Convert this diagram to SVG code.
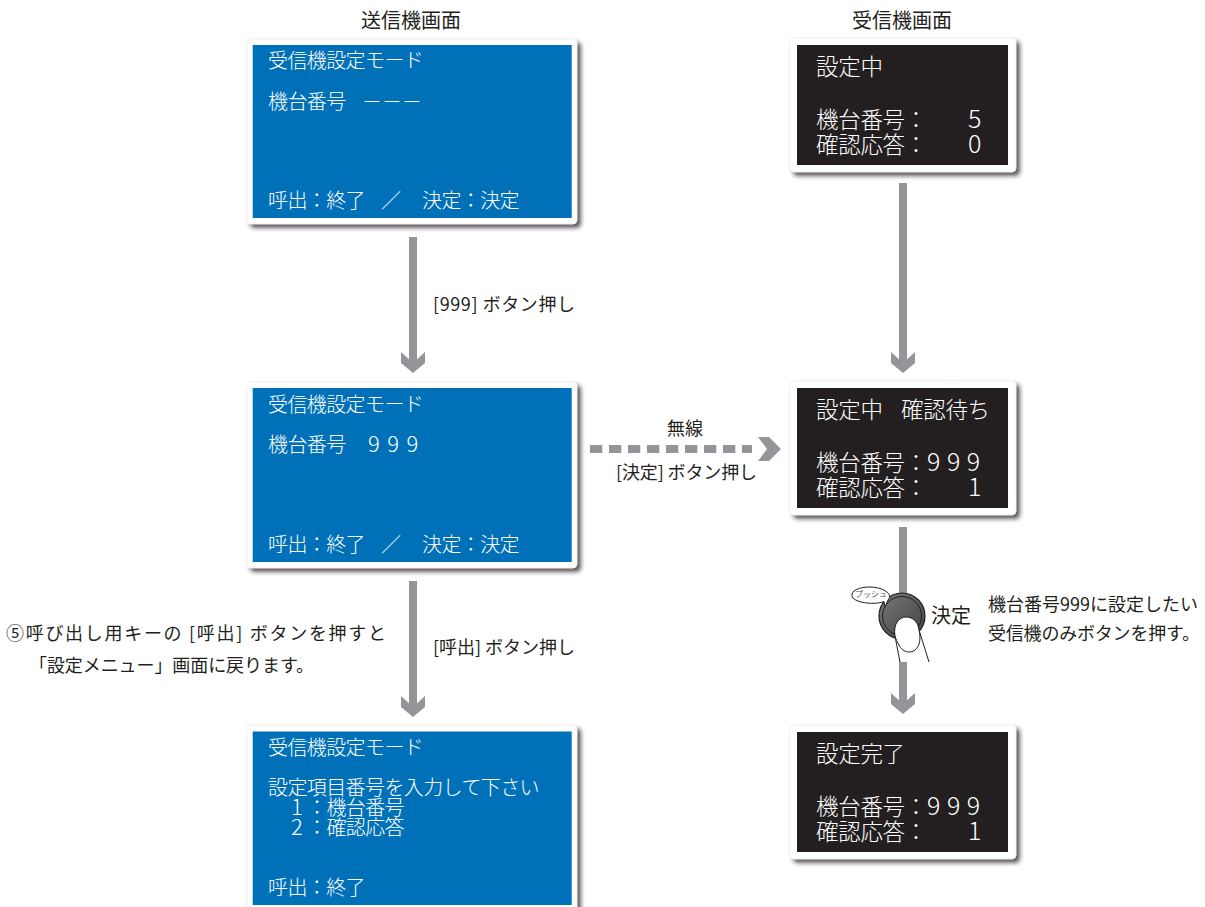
<svg xmlns="http://www.w3.org/2000/svg" width="1205" height="907" viewBox="0 0 1205 907">
<style>
text{font-family:"Noto Sans CJK JP","Noto Sans",sans-serif;white-space:pre}
.outer{fill:#fff;stroke:#e8e8e8;stroke-width:.6;filter:url(#sh)}
.blue{fill:#0071b8}
.black{fill:#231f20}
.t{fill:#fff;font-size:20px;font-weight:300;letter-spacing:-.6px}
.d{fill:#fff;font-size:22px;font-weight:300}
.k{fill:#fff;font-size:22.500px;font-weight:300;letter-spacing:-.3px}
.n{fill:#fff;font-size:25px;font-weight:300}
.l{fill:#231f20;font-size:18px}
.c{fill:#231f20;font-size:20px}
.ln{stroke:#939598;stroke-width:8;fill:none}
.hd{fill:#939598}
</style>
<defs>
<filter id="sh" x="-5%" y="-8%" width="112%" height="122%"><feDropShadow dx="3.500" dy="3.500" stdDeviation="2" flood-color="#231f20" flood-opacity=".75"/></filter>
<linearGradient id="btn" x1="0" x2="1" y1="0" y2="1"><stop offset="0" stop-color="#77787b"/><stop offset="1" stop-color="#414042"/></linearGradient>
<path id="ah" class="hd" d="M-12 -21L0 -10L12 -21V-10L0 0L-12 -10Z"/>
</defs>

<g id="connectors">
<path class="ln" d="M413 237V365"/><use href="#ah" x="413" y="373"/>
<path class="ln" d="M413 581V709"/><use href="#ah" x="413" y="717"/>
<path class="ln" d="M903 183V365"/><use href="#ah" x="903" y="373"/>
<path class="ln" d="M903 527V706"/><use href="#ah" x="903" y="714"/>
<path d="M590 449H752" stroke="#939598" stroke-width="8" stroke-dasharray="12.300 6.700" fill="none"/>
<path class="hd" d="M758 437H769L781 449L769 461H758L767 449Z"/>
</g>

<g id="tx-title"><text x="411" y="28" text-anchor="middle" class="c">送信機画面</text></g>
<g id="rx-title"><text x="902" y="28" text-anchor="middle" class="c">受信機画面</text></g>

<g id="tx1">
<rect class="outer" x="247" y="39" width="330" height="185" rx="4"/>
<rect class="blue" x="252.700" y="45" width="319" height="173"/>
<text class="t" x="268" y="68">受信機設定モード</text>
<text class="t" x="268" y="109">機台番号</text>
<text class="t" x="362" y="109" style="letter-spacing:0">－－－</text>
<text class="t" x="268" y="208">呼出：終了</text>
<text class="t" x="381" y="208">／</text>
<text class="t" x="422" y="208">決定：決定</text>
</g>

<g id="tx2">
<rect class="outer" x="247" y="382" width="330" height="186" rx="4"/>
<rect class="blue" x="252.700" y="388" width="319" height="174"/>
<text class="t" x="268" y="412">受信機設定モード</text>
<text class="t" x="268" y="452">機台番号</text>
<text class="d" x="368" y="452" letter-spacing="7.500">999</text>
<text class="t" x="268" y="552">呼出：終了</text>
<text class="t" x="381" y="552">／</text>
<text class="t" x="422" y="552">決定：決定</text>
</g>

<g id="tx3">
<rect class="outer" x="247" y="725" width="330" height="200" rx="4"/>
<rect class="blue" x="252.700" y="731.500" width="319" height="173.500"/>
<text class="t" x="268" y="755">受信機設定モード</text>
<text class="t" x="268" y="795">設定項目番号を入力して下さい</text>
<text class="d" x="291" y="815">1</text>
<text class="t" x="307" y="815">：機台番号</text>
<text class="d" x="291" y="835">2</text>
<text class="t" x="307" y="835">：確認応答</text>
<text class="t" x="268" y="895">呼出：終了</text>
</g>

<g id="rx1">
<rect class="outer" x="790" y="38" width="226" height="134" rx="4"/>
<rect class="black" x="797" y="45" width="211" height="120"/>
<text class="k" x="816" y="75">設定中</text>
<text class="k" x="816" y="128">機台番号：</text>
<text class="n" x="968" y="128">5</text>
<text class="k" x="816" y="153">確認応答：</text>
<text class="n" x="968" y="153">0</text>
</g>

<g id="rx2">
<rect class="outer" x="790" y="381" width="226" height="134" rx="4"/>
<rect class="black" x="797" y="388" width="211" height="120"/>
<text class="k" x="816" y="418">設定中</text>
<text class="k" x="901" y="418">確認待ち</text>
<text class="k" x="816" y="471">機台番号：</text>
<text class="n" x="927" y="471" letter-spacing="6.500">999</text>
<text class="k" x="816" y="496">確認応答：</text>
<text class="n" x="968" y="496">1</text>
</g>

<g id="rx3">
<rect class="outer" x="790" y="725" width="226" height="134" rx="4"/>
<rect class="black" x="797" y="732" width="211" height="120"/>
<text class="k" x="816" y="762">設定完了</text>
<text class="k" x="816" y="815">機台番号：</text>
<text class="n" x="927" y="815" letter-spacing="6.500">999</text>
<text class="k" x="816" y="840">確認応答：</text>
<text class="n" x="968" y="840">1</text>
</g>

<g id="label-999"><text class="l" x="433" y="311" textLength="142">[999] ボタン押し</text></g>
<g id="label-call"><text class="l" x="433" y="654" textLength="142">[呼出] ボタン押し</text></g>
<g id="label-wireless"><text class="l" x="685" y="435" text-anchor="middle">無線</text></g>
<g id="label-decide"><text class="l" x="616" y="479" textLength="141">[決定] ボタン押し</text></g>
<g id="note-left">
<text class="l" x="6" y="640" textLength="380">⑤呼び出し用キーの [呼出] ボタンを押すと</text>
<text class="l" x="29" y="672" textLength="285">「設定メニュー」画面に戻ります。</text>
</g>
<g id="note-right">
<text class="l" x="988" y="611" textLength="210">機台番号999に設定したい</text>
<text class="l" x="988" y="640" textLength="212">受信機のみボタンを押す。</text>
</g>

<g id="push-button">
<circle cx="902" cy="616" r="23" fill="url(#btn)" stroke="#231f20" stroke-width="1.200"/>
<circle cx="902" cy="616" r="19.500" fill="none" stroke="#231f20" stroke-width="1"/>
<path d="M895 636L900 662H929L919 630Z" fill="#fff"/>
<path d="M895 636L900 662M919 630L929 662" fill="none" stroke="#231f20" stroke-width="1"/>
<path d="M895 636C893 624 899 617 906 617C913 617 918 622 919 630C921 638 920 646 915 650C910 654 902 652 899 645C897 642 896 639 895 636Z" fill="#fff" stroke="#231f20" stroke-width="1"/>
<path d="M888 600C892 596 888 591 880 588.500C872 586 860 586.500 854 591C850 595 852 599 858 601C866 604 878 604 884 601.500L885 607Z" fill="#fff" stroke="#231f20" stroke-width="1"/>
<text x="871" y="597" text-anchor="middle" style="font-size:8px;fill:#58595b">プッシュ</text>
<text class="c" x="931" y="623">決定</text>
</g>
</svg>
